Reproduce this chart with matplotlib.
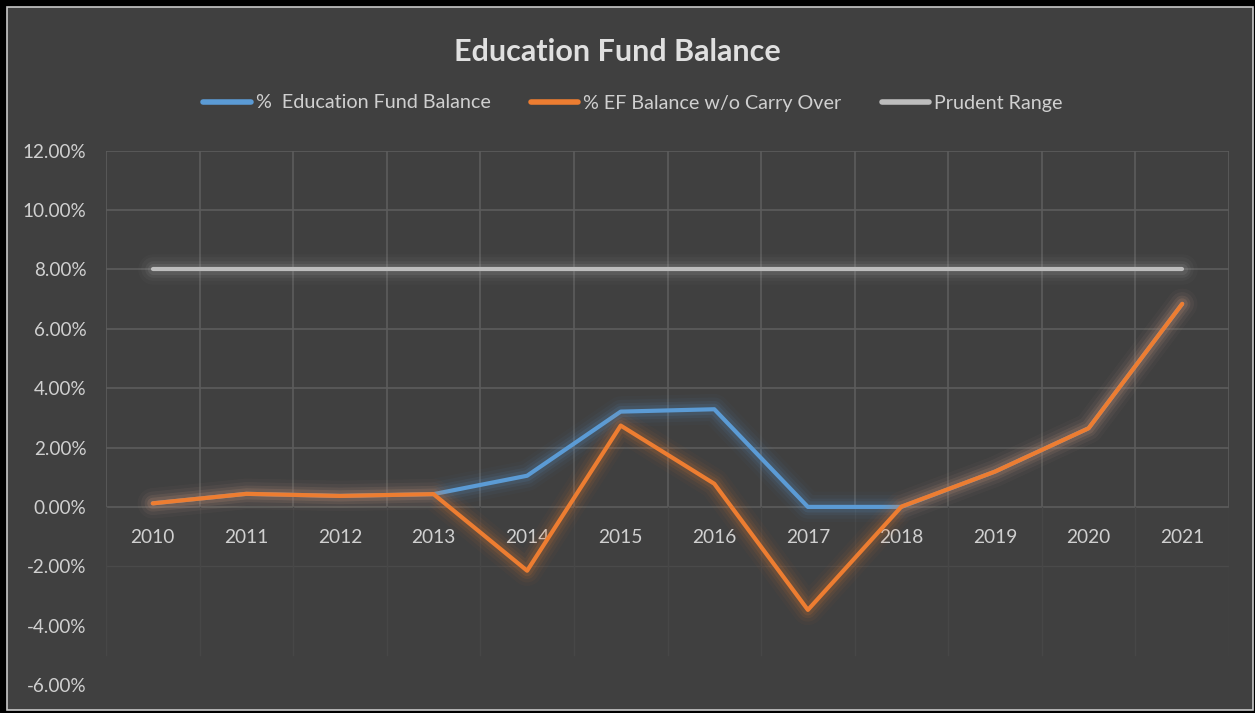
import matplotlib
matplotlib.use("Agg")
import matplotlib.pyplot as plt
import matplotlib.patheffects as pe
from matplotlib.patches import Rectangle
from matplotlib.ticker import FuncFormatter

# dati (valori in %)
anni = ["2010", "2011", "2012", "2013", "2014", "2015", "2016", "2017", "2018", "2019", "2020", "2021"]
ef_balance = [0.12, 0.44, 0.37, 0.43, 1.05, 3.21, 3.29, 0.0, 0.0, 1.19, 2.65, 6.84]
ef_senza_riporto = [0.12, 0.44, 0.37, 0.43, -2.15, 2.74, 0.78, -3.47, 0.01, 1.19, 2.65, 6.84]
prudent_range = [8.0] * 12

plt.rcParams['font.family'] = ['Lato', 'DejaVu Sans']

SFONDO = '#404040'
TESTO = '#D0D0D0'
GRIGLIA = '#5C5C5C'
BLU = '#5B9BD5'
ARANCIO = '#ED7D31'
GRIGIO = '#BDBDBD'

W, H = 1255, 713
fig = plt.figure(figsize=(W / 100, H / 100), dpi=100)
fig.patch.set_facecolor('black')
# area del grafico (cornice nera intorno)
fig.add_artist(Rectangle((7 / W, 3 / H), 1246 / W, 703 / H, transform=fig.transFigure,
                         facecolor=SFONDO, edgecolor='#C8C8C8', lw=1.2, zorder=0))

ax = fig.add_axes([106 / W, 1 - 685 / H, (1229 - 106) / W, (685 - 150.7) / H])
ax.set_facecolor('none')
x = list(range(len(anni)))

ax.set_xlim(-0.5, len(anni) - 0.5)
ax.set_ylim(-6, 12)

# griglia: sopra lo zero normale, sotto sbiadita
for yv in range(-6, 13, 2):
    if yv >= 0:
        ax.axhline(yv, color=GRIGLIA, lw=1.2, zorder=1)
    elif yv == -2:
        ax.axhline(yv, color='#4A4A4A', lw=1.0, zorder=1)
for i in range(len(anni) + 1):
    ax.plot([i - 0.5, i - 0.5], [0, 12], color=GRIGLIA, lw=1.2, zorder=1)
    ax.plot([i - 0.5, i - 0.5], [-5, 0], color='#474747', lw=1.0, zorder=1)


def bagliore(col):
    return [pe.Stroke(linewidth=22, foreground=col, alpha=0.03),
            pe.Stroke(linewidth=17, foreground=col, alpha=0.05),
            pe.Stroke(linewidth=12, foreground=col, alpha=0.08),
            pe.Stroke(linewidth=8, foreground=col, alpha=0.12),
            pe.Normal()]


ax.plot(x, prudent_range, color=GRIGIO, lw=3, solid_capstyle='round', zorder=3,
        label='Prudent Range', path_effects=bagliore('#B0B0B0'))
ax.plot(x, ef_balance, color=BLU, lw=3, solid_capstyle='round', zorder=4,
        label='%  Education Fund Balance', path_effects=bagliore(BLU))
ax.plot(x, ef_senza_riporto, color=ARANCIO, lw=3, solid_capstyle='round', zorder=5,
        label='% EF Balance w/o Carry Over', path_effects=bagliore(ARANCIO))

ax.set_yticks(range(-6, 13, 2))
ax.yaxis.set_major_formatter(FuncFormatter(lambda v, p: f"{v:.2f}%"))
ax.tick_params(axis='y', length=0, pad=14, labelsize=13.6, labelcolor=TESTO)

# asse delle categorie che incrocia a zero
ax.spines['bottom'].set_position(('data', 0))
ax.set_xticks(x)
ax.set_xticklabels(anni)
ax.tick_params(axis='x', length=0, pad=16, labelsize=13.8, labelcolor=TESTO)
for s in ax.spines.values():
    s.set_visible(False)

fig.text(617 / W, 1 - 52 / H, 'Education Fund Balance', ha='center', va='center',
         fontsize=22, fontweight='bold', color='#E0E0E0')

h, l = ax.get_legend_handles_labels()
ordine = [1, 2, 0]
leg = fig.legend([h[i] for i in ordine], [l[i] for i in ordine], loc='center',
                 bbox_to_anchor=(633 / W, 1 - 103 / H), ncol=3, frameon=False,
                 fontsize=14.2, labelcolor=TESTO, handlelength=2.4,
                 handletextpad=0.25, columnspacing=2.05)
for ln in leg.get_lines():
    ln.set_linewidth(4)
    ln.set_path_effects([])

fig.savefig('out.png', dpi=100, facecolor=fig.get_facecolor())
